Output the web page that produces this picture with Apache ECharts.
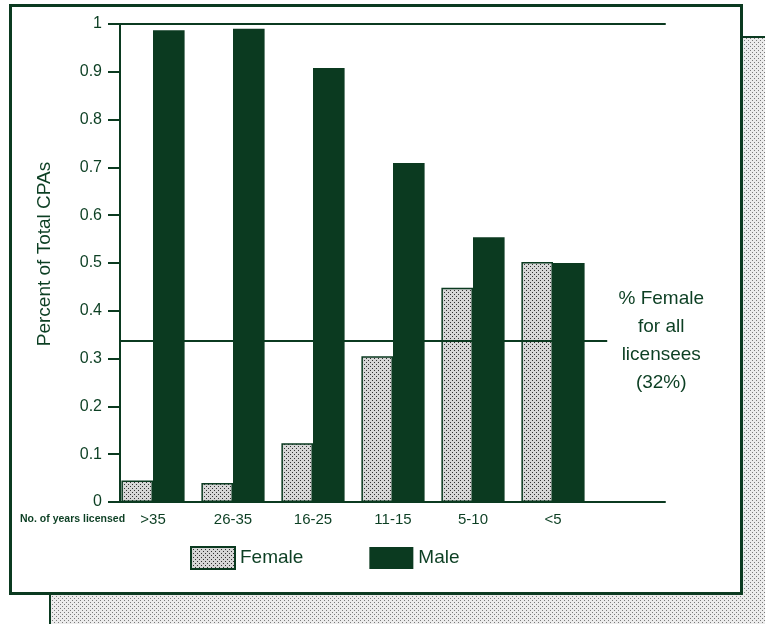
<!DOCTYPE html>
<html><head><meta charset="utf-8">
<script src="https://cdn.jsdelivr.net/npm/echarts@6/dist/echarts.min.js"></script>
<style>html,body{margin:0;padding:0;background:#fff}#c{width:765px;height:624px}</style>
</head><body><div id="c"></div>
<script>
const categories = ['>35', '26-35', '16-25', '11-15', '5-10', '<5'];
const femaleShare = [0.045, 0.04, 0.123, 0.305, 0.448, 0.502];
const maleShare = [0.987, 0.99, 0.908, 0.709, 0.554, 0.5];
const allLicenseesFemale = 0.337;
const yMin = 0, yMax = 1, yStep = 0.1;

const DARK = '#0b3a20';
const TXT = '#0c3f23';
const FONT = '"Liberation Sans", Arial, sans-serif';

function dots(bg, dot, size) {
  const c = document.createElement('canvas');
  c.width = size; c.height = size;
  const g = c.getContext('2d');
  g.fillStyle = bg; g.fillRect(0, 0, size, size);
  g.fillStyle = dot;
  g.fillRect(0, 0, 1, 1);
  g.fillRect(size / 2, size / 2, 1, 1);
  return c;
}
const femalePattern = { image: dots('#d6d6d6', '#303030', 4), repeat: 'repeat' };
const shadowPattern = { image: dots('#ececec', '#7a7a7a', 4), repeat: 'repeat' };

const chart = echarts.init(document.getElementById('c'), null, { renderer: 'canvas' });
chart.setOption({
  animation: false,
  backgroundColor: '#ffffff',
  textStyle: { fontFamily: FONT },
  graphic: [
    { type: 'rect', z: -20, shape: { x: 50, y: 37, width: 730, height: 600 },
      style: { fill: shadowPattern, stroke: DARK, lineWidth: 2 } },
    { type: 'rect', z: -10, shape: { x: 10.5, y: 5.5, width: 731, height: 588 },
      style: { fill: '#ffffff', stroke: DARK, lineWidth: 3 } },
    { type: 'text', z: 5, left: 20, top: 514,
      style: { text: 'No. of years licensed', fill: TXT, font: 'bold 10.5px ' + FONT } }
  ],
  grid: [
    { left: 113, width: 480, top: 24, bottom: 122 },
    { left: 120, right: 100, top: 24, bottom: 122 }
  ],
  legend: {
    left: 190, top: 546, padding: 0, itemWidth: 44, itemHeight: 22, itemGap: 66,
    icon: 'rect',
    textStyle: { fontSize: 19, color: TXT, fontFamily: FONT },
    data: ['Female', 'Male']
  },
  xAxis: [
    { type: 'category', gridIndex: 0, data: categories,
      axisLine: { show: false }, axisTick: { show: false },
      axisLabel: { fontSize: 15, color: TXT, margin: 10, fontFamily: FONT } },
    { type: 'value', gridIndex: 1, min: 0, max: 1, position: 'bottom',
      axisLine: { show: true, onZero: false, lineStyle: { color: DARK, width: 2 } },
      axisTick: { show: false }, axisLabel: { show: false }, splitLine: { show: false } },
    { type: 'value', gridIndex: 1, min: 0, max: 1, position: 'top',
      axisLine: { show: true, onZero: false, lineStyle: { color: DARK, width: 2 } },
      axisTick: { show: false }, axisLabel: { show: false }, splitLine: { show: false } }
  ],
  yAxis: [
    { type: 'value', gridIndex: 0, min: yMin, max: yMax, show: false },
    { type: 'value', gridIndex: 1, min: yMin, max: yMax, interval: yStep,
      name: 'Percent of Total CPAs', nameLocation: 'middle', nameGap: 66, nameRotate: 90,
      nameTextStyle: { fontSize: 19, color: TXT, fontFamily: FONT, padding: [0, 0, 0, 18] },
      axisLine: { show: true, onZero: false, lineStyle: { color: DARK, width: 2 } },
      axisTick: { show: true, length: 12, lineStyle: { color: DARK, width: 2 } },
      axisLabel: { fontSize: 16, color: TXT, margin: 18, fontFamily: FONT },
      splitLine: { show: false } }
  ],
  series: [
    { name: 'Female', type: 'bar', xAxisIndex: 0, yAxisIndex: 0, data: femaleShare,
      barGap: '0%', barCategoryGap: '21%',
      itemStyle: { color: femalePattern, borderColor: DARK, borderWidth: 1.5 } },
    { name: 'Male', type: 'bar', xAxisIndex: 0, yAxisIndex: 0, data: maleShare,
      barGap: '0%', barCategoryGap: '21%',
      itemStyle: { color: DARK } },
    { name: 'ref', type: 'line', xAxisIndex: 1, yAxisIndex: 1, data: [], silent: true,
      markLine: {
        silent: true, symbol: ['none', 'none'],
        lineStyle: { color: DARK, width: 2, type: 'solid' },
        label: { show: true, position: 'end', formatter: '% Female\nfor all\nlicensees\n(32%)',
          fontSize: 19, lineHeight: 28, color: TXT, fontFamily: FONT,
          align: 'center', distance: 54, padding: [22, 0, 0, 0] },
        data: [[{ coord: [0, allLicenseesFemale] }, { coord: [0.894, allLicenseesFemale] }]]
      } }
  ]
});
</script></body></html>
